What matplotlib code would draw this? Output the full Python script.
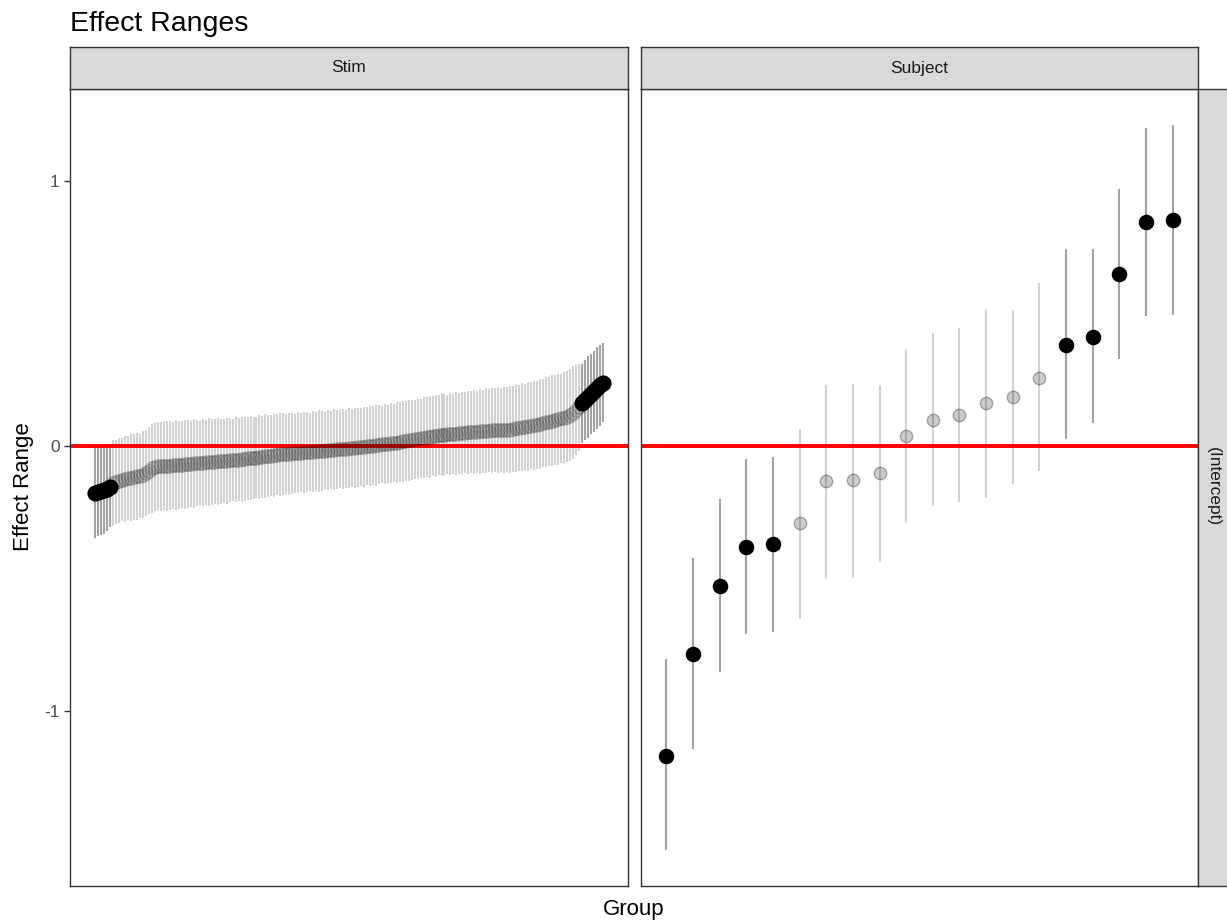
import numpy as np
import matplotlib
matplotlib.use("Agg")
import matplotlib.pyplot as plt

plt.rcParams['font.family'] = ['Liberation Sans', 'DejaVu Sans']

# Stim random effects (sorted estimates) and CI half widths
stim_est = [
    -0.178, -0.174, -0.170, -0.166, -0.162, -0.156,
    -0.140, -0.136, -0.132, -0.128, -0.125, -0.122, -0.120, -0.118, -0.116, -0.114, -0.110, -0.104,
    -0.094, -0.085, -0.080,
    -0.078, -0.077, -0.076, -0.075, -0.075, -0.074, -0.073, -0.072, -0.071, -0.070,
    -0.069, -0.068, -0.067, -0.066, -0.065, -0.064, -0.063, -0.062, -0.061, -0.060,
    -0.059, -0.058, -0.057, -0.056, -0.055, -0.054, -0.053, -0.052, -0.051, -0.050,
    -0.048, -0.047, -0.046, -0.045, -0.043, -0.042, -0.040, -0.039, -0.037, -0.036, -0.034,
    -0.033, -0.032, -0.031, -0.030, -0.029, -0.028, -0.027, -0.026, -0.025, -0.024,
    -0.023, -0.022, -0.021, -0.020, -0.019, -0.018, -0.017, -0.016, -0.015, -0.014,
    -0.013, -0.012, -0.011, -0.010, -0.009, -0.008, -0.006, -0.005, -0.004, -0.002,
    -0.001, 0.000, 0.002, 0.003, 0.005, 0.006, 0.008, 0.009, 0.011, 0.012, 0.014, 0.016,
    0.018, 0.020, 0.022, 0.024, 0.026, 0.028, 0.030, 0.032, 0.034, 0.036,
    0.038, 0.040, 0.041, 0.042, 0.043, 0.044, 0.045, 0.046, 0.047, 0.048,
    0.049, 0.050, 0.051, 0.052, 0.053, 0.054, 0.055, 0.056, 0.057, 0.058,
    0.058, 0.059, 0.059, 0.060, 0.060, 0.061,
    0.063, 0.065, 0.067, 0.069, 0.071, 0.073, 0.075, 0.077, 0.079, 0.082,
    0.085, 0.088, 0.091, 0.094, 0.097, 0.100, 0.103, 0.106, 0.110, 0.115,
    0.125, 0.135, 0.145,
    0.160, 0.172, 0.183, 0.195, 0.206, 0.218, 0.228, 0.238,
]
stim_hw = [
    0.170, 0.168, 0.166, 0.165, 0.160, 0.150,
    0.162, 0.158, 0.160, 0.156, 0.162, 0.159, 0.163, 0.161, 0.165, 0.160, 0.164, 0.162,
    0.165, 0.168, 0.166,
    0.166, 0.168, 0.165, 0.170, 0.167, 0.164, 0.169, 0.166, 0.163, 0.167,
    0.165, 0.162, 0.166, 0.163, 0.160, 0.164, 0.161, 0.165, 0.162, 0.159,
    0.163, 0.160, 0.158, 0.162, 0.159, 0.156, 0.160, 0.157, 0.161, 0.158,
    0.155, 0.159, 0.156, 0.153, 0.157, 0.154, 0.158, 0.155, 0.152, 0.156,
    0.153, 0.157, 0.154, 0.151, 0.155, 0.152, 0.149, 0.153, 0.150, 0.154,
    0.151, 0.148, 0.152, 0.149, 0.153, 0.150, 0.147, 0.151, 0.148, 0.152,
    0.149, 0.146, 0.150, 0.147, 0.151, 0.148, 0.152, 0.149, 0.146, 0.150,
    0.147, 0.151, 0.148, 0.152, 0.149, 0.146, 0.150, 0.147, 0.151, 0.148,
    0.152, 0.149, 0.153, 0.150, 0.154, 0.151, 0.148, 0.152, 0.149, 0.153,
    0.150, 0.154, 0.151, 0.155, 0.152, 0.156, 0.153, 0.150, 0.154, 0.151,
    0.155, 0.152, 0.156, 0.153, 0.157, 0.154, 0.158, 0.155, 0.159, 0.156,
    0.160, 0.157, 0.161, 0.158, 0.162, 0.159, 0.163, 0.160, 0.164, 0.161,
    0.165, 0.162, 0.166, 0.163, 0.167, 0.164, 0.168, 0.165, 0.169, 0.166,
    0.170, 0.167, 0.171, 0.168, 0.172, 0.169, 0.173, 0.170, 0.174,
    0.175, 0.170, 0.165,
    0.150, 0.152, 0.155, 0.150, 0.153, 0.155, 0.152, 0.150,
]

# Subject random effects
subj_est = [-1.168, -0.786, -0.530, -0.380, -0.372, -0.291, -0.134, -0.130, -0.103, 0.038,
            0.097, 0.116, 0.161, 0.183, 0.257, 0.380, 0.411, 0.648, 0.843, 0.851]
subj_lo = [-1.525, -1.145, -0.855, -0.709, -0.702, -0.653, -0.502, -0.498, -0.439, -0.290,
           -0.228, -0.213, -0.197, -0.144, -0.094, 0.025, 0.085, 0.326, 0.490, 0.493]
subj_hi = [-0.806, -0.423, -0.199, -0.050, -0.043, 0.063, 0.230, 0.234, 0.230, 0.365,
           0.425, 0.444, 0.515, 0.511, 0.613, 0.741, 0.741, 0.969, 1.197, 1.209]

yticks = [-1, 0, 1]
W, H = 1227, 924

fig = plt.figure(figsize=(W / 100, H / 100), dpi=100)


def px_axes(x0, y0, x1, y1):
    return fig.add_axes([x0 / W, 1 - y1 / H, (x1 - x0) / W, (y1 - y0) / H])


def strip(ax):
    ax.set_facecolor('#d9d9d9')
    ax.set_xticks([])
    ax.set_yticks([])
    for sp in ax.spines.values():
        sp.set_color('#333333')
        sp.set_linewidth(1.0)


def draw_panel(ax, est, lo, hi, big, small, grey_alpha):
    est = np.asarray(est)
    lo = np.asarray(lo)
    hi = np.asarray(hi)
    x = np.arange(1, len(est) + 1)
    sig = (lo > 0) | (hi < 0)
    ax.vlines(x[~sig], lo[~sig], hi[~sig], colors='#d2d2d2', linewidth=1.5, zorder=1)
    ax.vlines(x[sig], lo[sig], hi[sig], colors='#a3a3a3', linewidth=1.5, zorder=1)
    ax.axhline(0, color='#ff0000', linewidth=2.8, zorder=2)
    ax.scatter(x[~sig], est[~sig], s=small, facecolor=(0, 0, 0, grey_alpha[0]),
               edgecolor=(0, 0, 0, grey_alpha[1]), linewidth=1.0, zorder=3)
    ax.scatter(x[sig], est[sig], s=big, color='black', linewidth=0, zorder=4)
    n = len(est)
    pad = 0.05 * (n - 1)
    ax.set_xlim(1 - pad, n + pad)
    ax.set_ylim(-1.66, 1.345)
    ax.set_xticks([])
    for sp in ax.spines.values():
        sp.set_color('#333333')
        sp.set_linewidth(1.0)


# panels
ax1 = px_axes(70, 89, 628, 886)
est1 = np.asarray(stim_est)
hw1 = np.asarray(stim_hw)
draw_panel(ax1, est1, est1 - hw1, est1 + hw1, 135, 95, (0.08, 0.16))
ax1.set_yticks(yticks)
ax1.set_yticklabels([str(t) for t in yticks])
ax1.tick_params(axis='y', length=4.5, width=1, color='#333333',
                labelsize=12.5, labelcolor='#4d4d4d', pad=3)

ax2 = px_axes(641, 89, 1198, 886)
draw_panel(ax2, subj_est, subj_lo, subj_hi, 125, 80, (0.2, 0.3))
ax2.set_yticks([])

# strips
s1 = px_axes(70, 47, 628, 89)
strip(s1)
s1.text(0.5, 0.5, 'Stim', ha='center', va='center', fontsize=12.5, color='#1a1a1a',
        transform=s1.transAxes)
s2 = px_axes(641, 47, 1198, 89)
strip(s2)
s2.text(0.5, 0.5, 'Subject', ha='center', va='center', fontsize=12.5, color='#1a1a1a',
        transform=s2.transAxes)
s3 = px_axes(1198, 89, 1240, 886)
strip(s3)
fig.text(1213 / W, 1 - 487 / H, '(Intercept)', rotation=-90, ha='center', va='center',
         fontsize=12.5, color='#1a1a1a')

# titles
fig.text(70 / W, 1 - 24 / H, 'Effect Ranges', ha='left', va='center', fontsize=20.5)
fig.text(24 / W, 1 - 487 / H, 'Effect Range', rotation=90, ha='center', va='center', fontsize=16)
fig.text(634 / W, 1 - 910 / H, 'Group', ha='center', va='center', fontsize=16)

fig.savefig('out.png', dpi=100)
